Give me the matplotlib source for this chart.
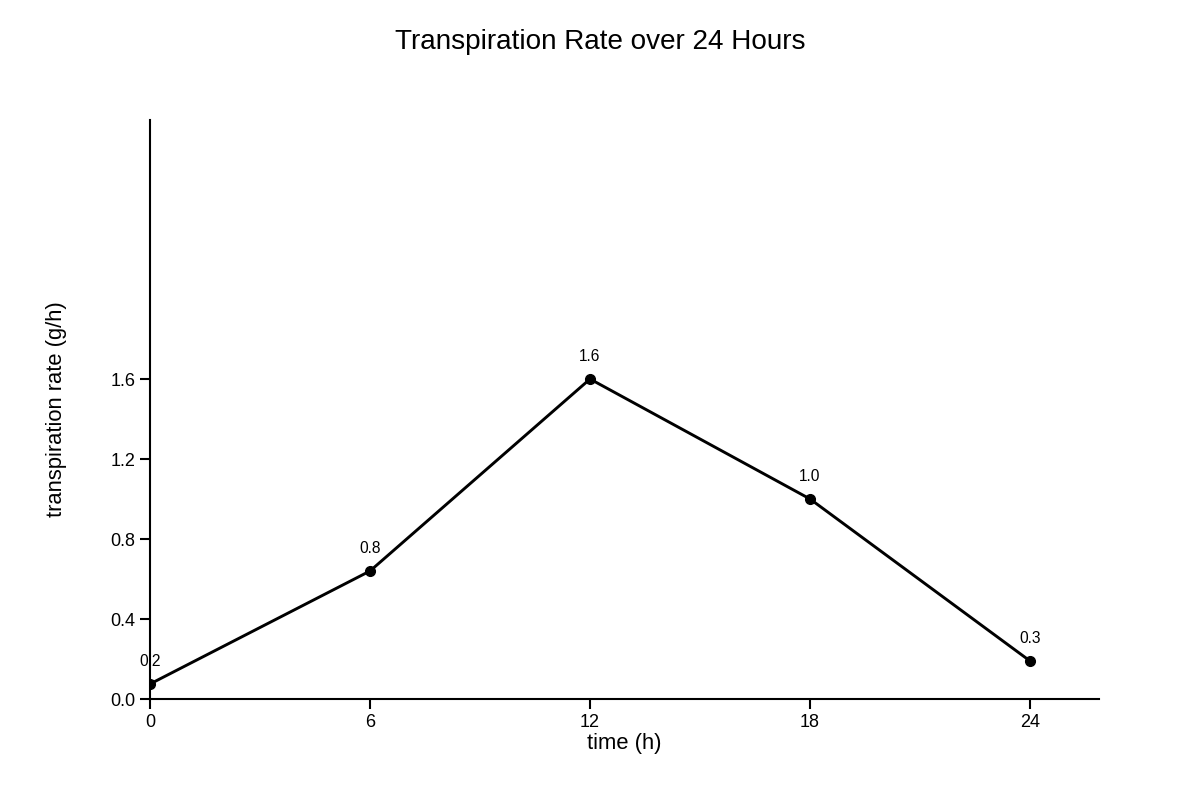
import matplotlib
matplotlib.use('Agg')
import matplotlib.pyplot as plt

plt.rcParams['font.family'] = ['Liberation Sans', 'DejaVu Sans']

hours = [0, 6, 12, 18, 24]
rate = [0.075, 0.64, 1.6, 1.0, 0.19]
point_labels = ['0.2', '0.8', '1.6', '1.0', '0.3']
x_ticks = [0, 6, 12, 18, 24]
y_ticks = [0.0, 0.4, 0.8, 1.2, 1.6]

fig = plt.figure(figsize=(12, 8), dpi=100)
ax = fig.add_axes([0.125, 0.12625, 0.79083, 0.72375])

ax.plot(hours, rate, color='black', linewidth=2.1, marker='o', markersize=7, zorder=3)
for h, r, lab in zip(hours, rate, point_labels):
    ax.annotate(lab, (h, r), xytext=(0, 11), textcoords='offset points',
                ha='center', va='bottom', fontsize=11.2)

ax.set_xlim(0, 25.88)
ax.set_ylim(0, 2.895)
ax.set_xticks(x_ticks)
ax.set_yticks(y_ticks)
ax.set_yticklabels(['%.1f' % v for v in y_ticks])
ax.tick_params(axis='both', labelsize=13, width=1.5, length=7, direction='out')

for s in ['top', 'right']:
    ax.spines[s].set_visible(False)
for s in ['left', 'bottom']:
    ax.spines[s].set_linewidth(1.5)

ax.set_xlabel('time (h)', fontsize=15.8, labelpad=2)
ax.set_ylabel('transpiration rate (g/h)', fontsize=15.8, labelpad=31)
fig.text(0.5, 0.948, 'Transpiration Rate over 24 Hours', ha='center', va='center', fontsize=20.1)

fig.savefig('out.png', dpi=100)
